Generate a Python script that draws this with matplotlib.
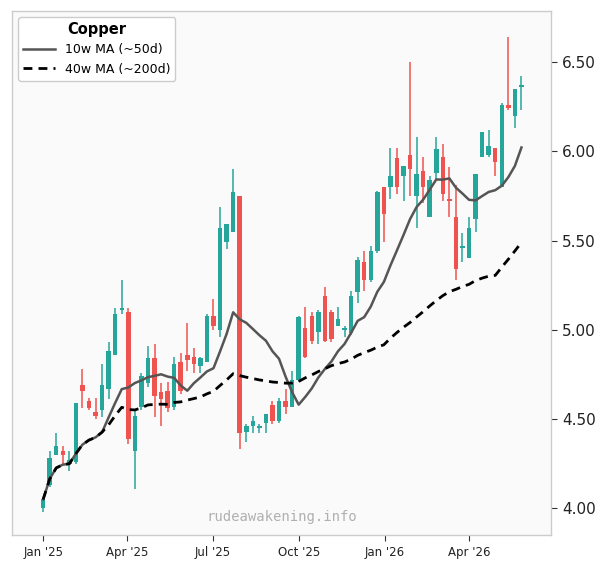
import matplotlib
matplotlib.use("Agg")
import matplotlib.pyplot as plt
import matplotlib.dates as mdates
import numpy as np
import pandas as pd

# Weekly copper OHLC (USD/lb)
week_start = "2025-01-01"
opens = [4.00, 4.13, 4.30, 4.32, 4.25, 4.26, 4.69, 4.60, 4.54, 4.55,
         4.67, 4.86, 5.11, 5.10, 4.32, 4.57, 4.70, 4.84, 4.65, 4.66,
         4.57, 4.82, 4.86, 4.85, 4.80, 4.82, 5.08, 5.00, 5.49, 5.55,
         5.75, 4.43, 4.46, 4.45, 4.48, 4.58, 4.49, 4.60, 4.57, 4.72,
         5.01, 5.08, 4.99, 5.19, 5.10, 5.02, 5.00, 4.98, 5.21, 5.38,
         5.28, 5.44, 5.80, 5.80, 5.96, 5.86, 5.98, 5.75, 5.89, 5.63,
         5.88, 5.97, 5.73, 5.63, 5.46, 5.40, 5.62, 5.97, 5.98, 6.02,
         5.80, 6.26, 6.20, 6.36]
highs = [4.06, 4.32, 4.42, 4.35, 4.32, 4.59, 4.78, 4.62, 4.62, 4.81,
         4.93, 5.12, 5.28, 5.12, 4.55, 4.76, 4.91, 4.92, 4.70, 4.71,
         4.85, 4.87, 5.04, 4.90, 4.85, 5.09, 5.17, 5.69, 5.59, 5.90,
         5.75, 4.47, 4.52, 4.47, 4.53, 4.60, 4.62, 4.67, 4.77, 5.08,
         5.13, 5.10, 5.11, 5.24, 5.11, 5.13, 5.02, 5.22, 5.41, 5.44,
         5.47, 5.78, 5.80, 6.02, 6.02, 5.92, 6.50, 6.08, 5.97, 5.86,
         6.08, 6.04, 5.91, 5.81, 5.54, 5.63, 5.87, 6.11, 6.12, 6.02,
         6.27, 6.64, 6.35, 6.42]
lows = [3.98, 4.12, 4.30, 4.25, 4.21, 4.25, 4.56, 4.55, 4.50, 4.51,
        4.61, 4.86, 5.09, 4.36, 4.11, 4.55, 4.68, 4.51, 4.46, 4.54,
        4.55, 4.64, 4.77, 4.76, 4.76, 4.82, 5.00, 4.96, 5.45, 5.55,
        4.33, 4.37, 4.42, 4.42, 4.42, 4.47, 4.48, 4.53, 4.57, 4.71,
        4.84, 4.92, 4.92, 4.93, 4.93, 5.02, 4.96, 4.97, 5.15, 5.22,
        5.27, 5.43, 5.49, 5.73, 5.76, 5.72, 5.75, 5.57, 5.71, 5.63,
        5.84, 5.72, 5.63, 5.28, 5.38, 5.40, 5.55, 5.97, 5.97, 5.86,
        5.80, 6.23, 6.13, 6.23]
closes = [4.05, 4.28, 4.35, 4.30, 4.27, 4.59, 4.66, 4.56, 4.52, 4.69,
          4.88, 5.09, 5.12, 4.39, 4.52, 4.74, 4.84, 4.63, 4.61, 4.56,
          4.81, 4.66, 4.83, 4.81, 4.84, 5.08, 5.02, 5.57, 5.59, 5.77,
          4.42, 4.46, 4.49, 4.46, 4.53, 4.49, 4.60, 4.57, 4.72, 5.07,
          4.85, 4.94, 5.10, 4.94, 4.95, 5.06, 5.01, 5.19, 5.39, 5.28,
          5.44, 5.77, 5.65, 5.86, 5.80, 5.92, 5.90, 5.87, 5.80, 5.84,
          6.01, 5.76, 5.72, 5.34, 5.47, 5.57, 5.87, 6.11, 6.03, 5.94,
          6.26, 6.24, 6.35, 6.37]

UP = "#26a69a"
DOWN = "#ef5350"

df = pd.DataFrame(
    {"open": opens, "high": highs, "low": lows, "close": closes},
    index=pd.date_range(week_start, periods=len(closes), freq="7D"),
)
ma10 = df["close"].rolling(10, min_periods=1).mean()
ma40 = df["close"].rolling(40, min_periods=1).mean()

fig = plt.figure(figsize=(6.12, 5.73), dpi=100)
ax = fig.add_axes([0.020, 0.066, 0.881, 0.915])
ax.set_facecolor("#fafafa")

up = df["close"] >= df["open"]
colors = np.where(up, UP, DOWN)
body_low = df[["open", "close"]].min(axis=1)
body_h = (df["close"] - df["open"]).abs().clip(lower=0.008)

ax.vlines(df.index, df["low"], df["high"], colors=colors, linewidth=1.1, zorder=2)
ax.bar(df.index, body_h, bottom=body_low, width=4.8, color=colors,
       linewidth=0, zorder=3)

ax.plot(df.index, ma10, color="#555555", linewidth=1.8, label="10w MA (~50d)", zorder=4)
ax.plot(df.index, ma40, color="black", linewidth=2.0, linestyle=(0, (3.2, 2.2)),
        label="40w MA (~200d)", zorder=4)

ax.set_xlim(df.index[0] - pd.Timedelta(days=33), df.index[-1] + pd.Timedelta(days=32))
ax.set_ylim(3.85, 6.786)

ax.yaxis.tick_right()
ax.set_yticks([4.0, 4.5, 5.0, 5.5, 6.0, 6.5])
ax.yaxis.set_major_formatter(matplotlib.ticker.FormatStrFormatter("%.2f"))
ax.xaxis.set_major_locator(mdates.MonthLocator(bymonth=[1, 4, 7, 10]))
ax.xaxis.set_major_formatter(mdates.DateFormatter("%b '%y"))
ax.tick_params(axis="y", labelsize=11, length=4, color="#333333", labelcolor="#222222")
ax.tick_params(axis="x", labelsize=8.5, length=4, color="#333333", labelcolor="#222222")

for s in ax.spines.values():
    s.set_color("#cccccc")
    s.set_linewidth(1.0)

leg = ax.legend(loc="upper left", title="Copper", fontsize=9,
                title_fontproperties={"weight": "bold", "size": 10.5},
                frameon=True, edgecolor="#cccccc", facecolor="white",
                framealpha=1.0, handlelength=2.5, borderaxespad=0.5)

ax.text(0.5, 0.035, "rudeawakening.info", transform=ax.transAxes,
        ha="center", va="center", fontsize=10, family="DejaVu Sans Mono",
        color="#b0b0b0", zorder=1)

fig.savefig("out.png", dpi=100)
